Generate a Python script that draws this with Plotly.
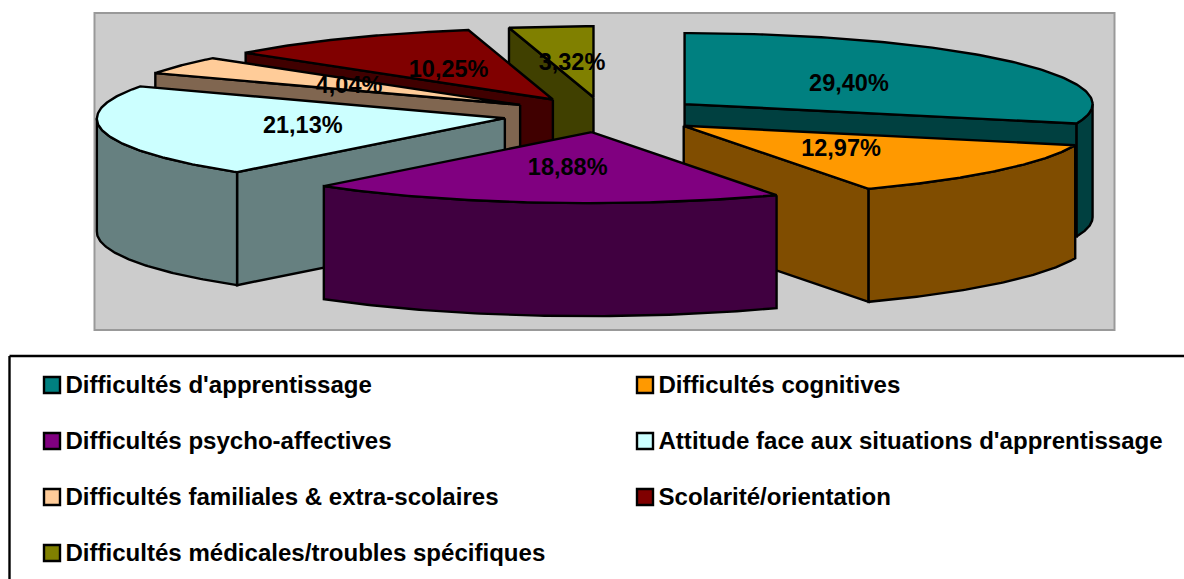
import numpy as np
import plotly.graph_objects as go

categories = ["Difficultés d'apprentissage", "Difficultés cognitives", "Difficultés psycho-affectives",
              "Attitude face aux situations d'apprentissage", "Difficultés familiales & extra-scolaires",
              "Scolarité/orientation", "Difficultés médicales/troubles spécifiques"]
values = [29.40, 12.97, 18.88, 21.13, 4.04, 10.25, 3.32]
top_colors = ["#008080", "#FF9900", "#800080", "#CCFFFF", "#FFCC99", "#800000", "#808000"]
side_colors = ["#004040", "#804D00", "#400040", "#668080", "#806650", "#400000", "#404000"]

# 3D pie projection (style constants, in page pixels)
CX, CY, RX, RY, DEPTH, EXPLODE, LABEL_R, LEAN = 604, 114.7, 408, 71, 113, 0.2475, 0.505, 0.05
NUDGE = {1: 2}
draw_order = [6, 5, 4, 3, 0, 1, 2]

total = sum(values)
edges = np.concatenate([[0], np.cumsum(values)]) / total * 2 * np.pi


def lean(x, y):
    return x - LEAN * np.maximum(y - CY, 0)


def rim(ax, ay, t):
    y = ay - RY * np.cos(t)
    return lean(ax + RX * np.sin(t), y), y


def face(fig, xs, ys, color):
    fig.add_trace(go.Scatter(x=list(xs) + [xs[0]], y=list(ys) + [ys[0]], mode="lines", fill="toself",
                             fillcolor=color, line=dict(color="black", width=2.4), hoverinfo="skip",
                             showlegend=False))


fig = go.Figure()
lx, ly, lt = [], [], []
for i in draw_order:
    a, b = edges[i], edges[i + 1]
    m = (a + b) / 2
    base_x = CX + EXPLODE * RX * np.sin(m)
    ax0 = base_x + NUDGE.get(i, 0)
    ay = CY - EXPLODE * RY * np.cos(m)
    ax = lean(ax0, ay)
    # radial walls that face the viewer
    if np.sin(a) < -1e-6:
        rx, ry = rim(ax0, ay, a)
        face(fig, [ax, rx, rx, ax], [ay, ry, ry + DEPTH, ay + DEPTH], side_colors[i])
    if np.sin(b) > 1e-6:
        rx, ry = rim(ax0, ay, b)
        face(fig, [ax, rx, rx, ax], [ay, ry, ry + DEPTH, ay + DEPTH], side_colors[i])
    # outer wall (front half of the rim)
    s, e = max(a, np.pi / 2), min(b, 3 * np.pi / 2)
    if e > s:
        t = np.linspace(s, e, 90)
        rx, ry = rim(ax0, ay, t)
        face(fig, np.r_[rx, rx[::-1]], np.r_[ry, (ry + DEPTH)[::-1]], side_colors[i])
    # top
    t = np.linspace(a, b, 120)
    rx, ry = rim(ax0, ay, t)
    face(fig, np.r_[ax, rx], np.r_[ay, ry], top_colors[i])
    py = ay - 0.5 * RY * np.cos(m) + 2
    px = base_x + LABEL_R * RX * np.sin(m) - 0.5 * LEAN * max(py - CY, 0)
    lx.append(px)
    ly.append(py)
    lt.append(f"<b>{values[i]:.2f}%</b>".replace(".", ","))

fig.add_trace(go.Scatter(x=lx, y=ly, text=lt, mode="text", textposition="middle center", showlegend=False,
                         hoverinfo="skip",
                         textfont=dict(family="Liberation Sans", size=23.5, color="black")))

# legend, two columns
col_x = [52, 645]
row_y = [385, 441, 497, 553]
for i, name in enumerate(categories):
    x = col_x[i % 2]
    y = row_y[i // 2]
    fig.add_trace(go.Scatter(x=[x], y=[y], mode="markers", showlegend=False, hoverinfo="skip",
                             marker=dict(symbol="square", size=16, color=top_colors[i],
                                         line=dict(color="black", width=2.4))))
    fig.add_trace(go.Scatter(x=[x + 13.5], y=[y + 2], mode="text", text=[f"<b>{name}</b>"], textposition="middle right",
                             showlegend=False, hoverinfo="skip",
                             textfont=dict(family="Liberation Sans", size=24.05, color="black")))

fig.update_layout(
    width=1184, height=579, margin=dict(l=0, r=0, t=0, b=0), paper_bgcolor="white", plot_bgcolor="white",
    xaxis=dict(range=[0, 1184], visible=False, fixedrange=True),
    yaxis=dict(range=[579, 0], visible=False, fixedrange=True),
    shapes=[
        dict(type="rect", x0=94.5, x1=1114.5, y0=13, y1=330, fillcolor="#CCCCCC",
             line=dict(color="#999999", width=2), layer="below"),
        dict(type="line", x0=9.5, x1=1184, y0=356, y1=356, line=dict(color="black", width=2.4), layer="below"),
        dict(type="line", x0=9.5, x1=9.5, y0=356, y1=579, line=dict(color="black", width=2.4), layer="below"),
    ],
)
fig.write_html("out.html", config={"displayModeBar": False},
               post_script="document.body.style.margin='0';document.body.style.overflow='hidden';")
